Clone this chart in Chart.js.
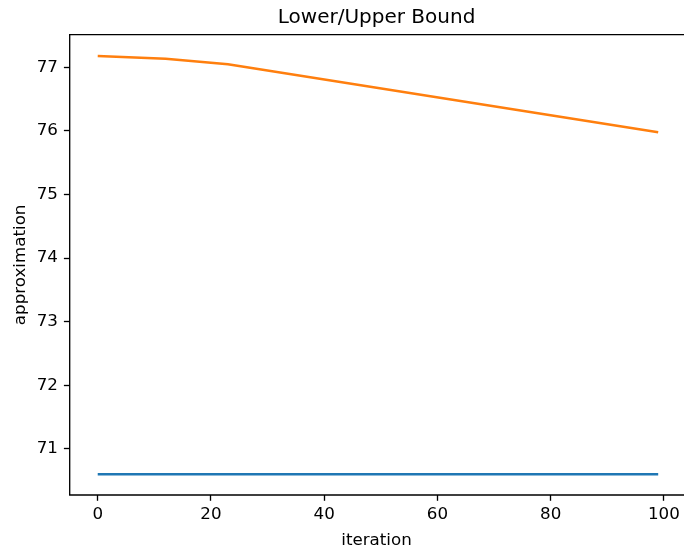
<!DOCTYPE html>
<html>
<head>
<meta charset="utf-8">
<script src="https://cdn.jsdelivr.net/npm/chart.js@4/dist/chart.umd.min.js"></script>
<style>
  html, body { margin: 0; padding: 0; background: #fff; overflow: hidden; }
</style>
</head>
<body>
<canvas id="myChart" width="684" height="549"></canvas>
<script>
// data
var iterUpper = [0, 12, 23, 99];
var upperBound = [77.178, 77.135, 77.047, 75.978];
var iterLower = [0, 99];
var lowerBound = [70.60, 70.60];

var xTicks = [0, 20, 40, 60, 80, 100];
var yTicks = [71, 72, 73, 74, 75, 76, 77];

function toPoints(xs, ys) {
    return xs.map(function (x, i) { return { x: x, y: ys[i] }; });
}

// spines: the right one falls just outside the picture, so only top/left/bottom
var framePlugin = {
    id: 'frame',
    afterDraw: function (chart) {
        var a = chart.chartArea;
        var ctx = chart.ctx;
        ctx.save();
        ctx.strokeStyle = '#000';
        ctx.lineWidth = 1.33;
        ctx.beginPath();
        ctx.moveTo(chart.width, a.top);
        ctx.lineTo(a.left, a.top);
        ctx.lineTo(a.left, a.bottom);
        ctx.lineTo(chart.width, a.bottom);
        ctx.stroke();
        ctx.restore();
    }
};

var font = { family: 'DejaVu Sans', size: 16.7, lineHeight: 1.2 };

var ctx = document.getElementById('myChart').getContext('2d');
new Chart(ctx, {
    type: 'line',
    data: {
        datasets: [{
            label: 'upper',
            data: toPoints(iterUpper, upperBound),
            borderColor: '#ff7f0e',
            borderWidth: 2.5,
            pointRadius: 0,
            fill: false,
            tension: 0
        }, {
            label: 'lower',
            data: toPoints(iterLower, lowerBound),
            borderColor: '#1f77b4',
            borderWidth: 2.5,
            pointRadius: 0,
            fill: false,
            tension: 0
        }]
    },
    options: {
        responsive: false,
        animation: false,
        devicePixelRatio: 1,
        layout: { padding: 0 },
        plugins: {
            legend: { display: false },
            tooltip: { enabled: false },
            title: {
                display: true,
                fullSize: false,
                text: 'Lower/Upper Bound',
                color: '#000',
                font: { family: 'DejaVu Sans', size: 20, weight: 'normal', lineHeight: 1.2 },
                padding: { top: 6, bottom: 4.7 }
            }
        },
        scales: {
            x: {
                type: 'linear',
                min: -4.95,
                max: 103.45,
                afterBuildTicks: function (scale) {
                    scale.ticks = xTicks.map(function (v) { return { value: v }; });
                },
                afterFit: function (scale) { scale.height = 54; },
                border: { display: false },
                grid: {
                    drawOnChartArea: false,
                    drawTicks: true,
                    tickLength: 5.8,
                    tickColor: '#000',
                    tickWidth: 1.33
                },
                ticks: { color: '#000', font: font, padding: 4.2, maxRotation: 0 },
                title: {
                    display: true,
                    text: 'iteration',
                    color: '#000',
                    font: { family: 'DejaVu Sans', size: 16.7, lineHeight: 1 },
                    padding: { top: 0, bottom: 0 }
                }
            },
            y: {
                type: 'linear',
                min: 70.275,
                max: 77.513,
                afterBuildTicks: function (scale) {
                    scale.ticks = yTicks.map(function (v) { return { value: v }; });
                },
                afterFit: function (scale) { scale.width = 69.7; },
                border: { display: false },
                grid: {
                    drawOnChartArea: false,
                    drawTicks: true,
                    tickLength: 5.8,
                    tickColor: '#000',
                    tickWidth: 1.33
                },
                ticks: { color: '#000', font: font, padding: 6 },
                title: {
                    display: true,
                    text: 'approximation',
                    color: '#000',
                    font: { family: 'DejaVu Sans', size: 16.7, lineHeight: 1 },
                    padding: { top: 11.9, bottom: 0 }
                }
            }
        }
    },
    plugins: [framePlugin]
});
</script>
</body>
</html>
